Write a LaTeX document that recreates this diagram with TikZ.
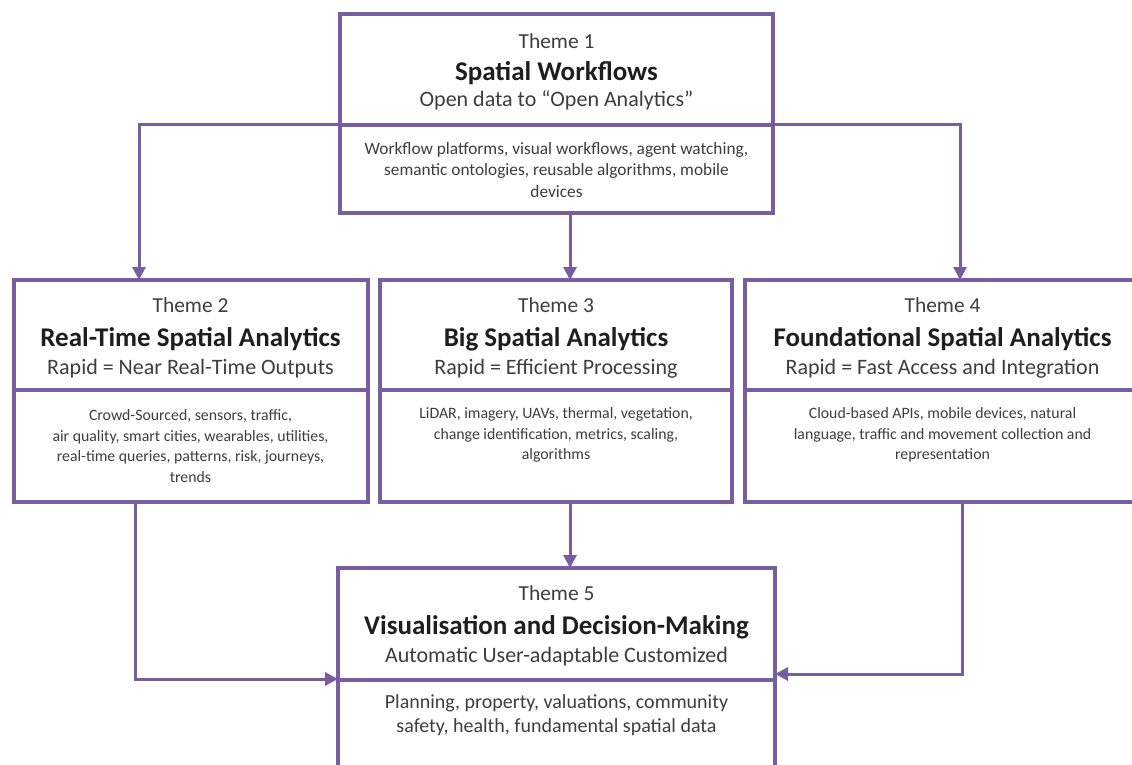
\documentclass[tikz,border=0pt]{standalone}
\usepackage{fontspec}
\setmainfont{Carlito}
\usetikzlibrary{arrows.meta}
\definecolor{vio}{RGB}{118,94,160}
\definecolor{txt}{RGB}{62,62,62}
\definecolor{ttlc}{RGB}{30,30,30}
\begin{document}
\begin{tikzpicture}[x=1pt,y=-1pt,
  box/.style={draw=vio, line width=4pt, fill=white, rectangle, inner sep=0pt},
  divline/.style={draw=vio, line width=4pt},
  arr/.style={draw=vio, line width=3pt, -{Triangle[length=13pt,width=13pt]}},
  lab/.style={font=\fontsize{21.4}{24}\selectfont, text=txt, anchor=base},
  ttl/.style={font=\fontsize{27}{30}\selectfont\bfseries, text=ttlc, anchor=base},
  sub/.style={font=\fontsize{22}{24}\selectfont, text=txt, anchor=base},
  body/.style={font=\fontsize{15.8}{20.5}\selectfont, text=txt, align=center},
]
\useasboundingbox (0,0) rectangle (1132,765);
\clip (0,0) rectangle (1132,765);
\fill[white] (0,0) rectangle (1132,765);

% boxes
\node[box, minimum width=433, minimum height=199] (t1) at (556.5,113.5) {};
\node[box, minimum width=354, minimum height=222] (t2) at (190.5,391) {};
\node[box, minimum width=352, minimum height=222] (t3) at (556,391) {};
\node[box, minimum width=395, minimum height=222] (t4) at (942.5,391) {};
\node[box, minimum width=437, minimum height=240] (t5) at (556.5,688) {};

% dividers
\coordinate (d1l) at (340,125); \coordinate (d1r) at (773,125);
\coordinate (d2l) at (13,390);  \coordinate (d2r) at (367,390);
\coordinate (d3l) at (380,390); \coordinate (d3r) at (732,390);
\coordinate (d4l) at (745,390); \coordinate (d4r) at (1140,390);
\coordinate (d5l) at (338,680); \coordinate (d5r) at (775,680);
\draw[divline] (d1l) -- (d1r);
\draw[divline] (d2l) -- (d2r);
\draw[divline] (d3l) -- (d3r);
\draw[divline] (d4l) -- (d4r);
\draw[divline] (d5l) -- (d5r);

% texts theme 1
\node[lab] (l1) at (556.5,49) {Theme 1};
\node[ttl] (h1) at (556.5,81) {Spatial Workflows};
\node[sub] (s1) at (556.5,107) {Open data to “Open Analytics”};
\node[body, font=\fontsize{17.3}{21.5}\selectfont] (b1) at (556.5,170) {Workflow platforms, visual workflows, agent watching,\\semantic ontologies, reusable algorithms, mobile\\devices};

% theme 2
\node[lab] (l2) at (190.5,312) {Theme 2};
\node[ttl] (h2) at (190.5,346) {Real-Time Spatial Analytics};
\node[sub] (s2) at (190.5,374) {Rapid = Near Real-Time Outputs};
\node[body] (b2) at (190.5,446) {Crowd-Sourced, sensors, traffic,\\air quality, smart cities, wearables, utilities,\\real-time queries, patterns, risk, journeys,\\trends};

% theme 3
\node[lab] (l3) at (556,312) {Theme 3};
\node[ttl] (h3) at (556,346) {Big Spatial Analytics};
\node[sub] (s3) at (556,374) {Rapid = Efficient Processing};
\node[body] (b3) at (556,435) {LiDAR, imagery, UAVs, thermal, vegetation,\\change identification, metrics, scaling,\\algorithms};

% theme 4
\node[lab] (l4) at (942.5,312) {Theme 4};
\node[ttl] (h4) at (942.5,346) {Foundational Spatial Analytics};
\node[sub] (s4) at (942.5,374) {Rapid = Fast Access and Integration};
\node[body] (b4) at (942.5,435) {Cloud-based APIs, mobile devices, natural\\language, traffic and movement collection and\\representation};

% theme 5
\node[lab] (l5) at (556.5,600) {Theme 5};
\node[ttl] (h5) at (556.5,634) {Visualisation and Decision-Making};
\node[sub] (s5) at (556.5,662) {Automatic User-adaptable Customized};
\node[body, font=\fontsize{20}{24}\selectfont] (b5) at (556.5,715) {Planning, property, valuations, community\\safety, health, fundamental spatial data};

% connectors
\coordinate (a2) at (139,280);
\coordinate (a4) at (960,280);
\coordinate (m1) at (570,213);
\coordinate (a3) at (570,280);
\coordinate (o2) at (135,502);
\coordinate (o3) at (570,502);
\coordinate (o4) at (962,502);
\coordinate (i5l) at (338,679);
\coordinate (i5r) at (775,674);
\coordinate (i5t) at (570,568);

\draw[arr] (d1l) -| (a2);
\draw[arr] (d1r) -| (a4);
\draw[arr] (m1) -- (a3);
\draw[arr] (o2) |- (i5l);
\draw[arr] (o4) |- (i5r);
\draw[arr] (o3) -- (i5t);
\end{tikzpicture}
\end{document}
